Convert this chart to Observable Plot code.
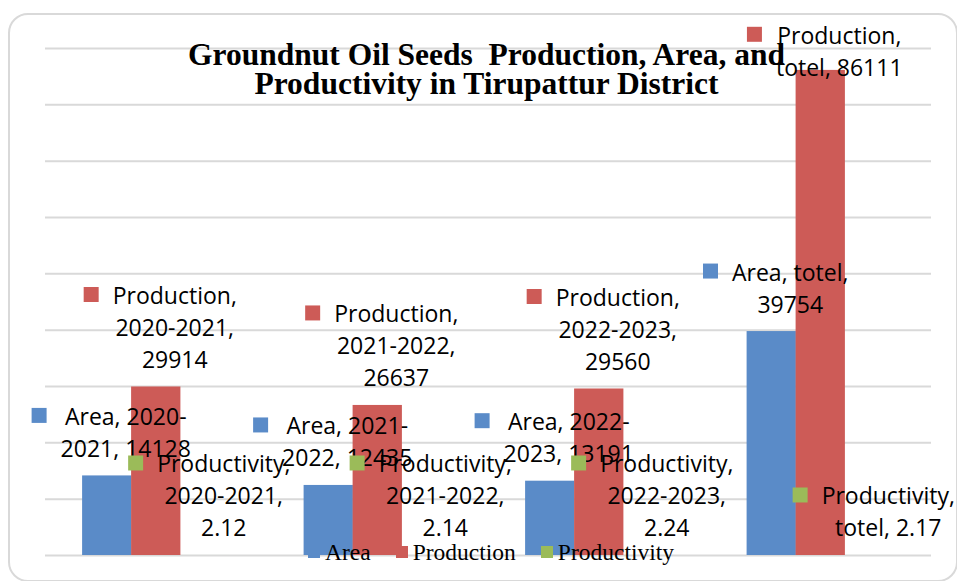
<!DOCTYPE html>
<html>
<head>
<meta charset="utf-8">
<script src="https://cdn.jsdelivr.net/npm/d3@7"></script>
<script src="https://cdn.jsdelivr.net/npm/@observablehq/plot@0.6"></script>
<style>
  html, body { margin: 0; padding: 0; background: #fff; }
  #wrap { position: relative; width: 957px; height: 581px; overflow: hidden; background: #fff; }
  #chart { position: absolute; left: 0; top: 0; }
  #frame { position: absolute; left: 8px; top: 13px; width: 946px; height: 565px;
           border: 2px solid #d9d9d9; border-radius: 20px; pointer-events: none; }
  #title { position: absolute; left: 0; top: 39.5px; width: 973px; text-align: center;
           font: bold 31.5px "Liberation Serif", "Times New Roman", serif; line-height: 29px;
           color: #000; white-space: pre; }
  #legend { position: absolute; left: 308px; top: 540px; display: flex;
            font: 23.5px "Liberation Serif", "Times New Roman", serif; line-height: 24px; color: #000; }
  #legend .item { display: flex; align-items: flex-start; margin-right: 25px; }
  #legend .key { width: 12px; height: 12px; margin-top: 6px; margin-right: 5px; }
</style>
</head>
<body>
<div id="wrap">
  <div id="chart"></div>
  <div id="title"></div>
  <div id="legend"></div>
  <div id="frame"></div>
</div>
<script>
// ---------------- data ----------------
const titleLines = ["Groundnut Oil Seeds  Production, Area, and", "Productivity in Tirupattur District"];
const categories = ["2020-2021", "2021-2022", "2022-2023", "totel"];
const series = ["Area", "Production", "Productivity"];
const areaValues = [14128, 12435, 13191, 39754];
const productionValues = [29914, 26637, 29560, 86111];
const productivityValues = [2.12, 2.14, 2.24, 2.17];
const gridTicks = [0, 10000, 20000, 30000, 40000, 50000, 60000, 70000, 80000, 90000];
const seriesColors = ["#5a8bc8", "#cd5b57", "#9bbb59"];

// ---------------- layout / style ----------------
const W = 957, H = 581;
const M = {top: 48, right: 26, bottom: 26, left: 45};
const SUB = 49;                 // width of one bar inside a category group
const LABEL_FONT = "'Open Sans'";
const LABEL_SIZE = 23;
const LINE = 32;                // label line spacing (px)
const WRAP = 148;               // label wrap width (px)
const TEXT_SHIFT = 18.5;        // label centre right of bar centre
const KEY_GAP = 14;             // gap between key square and label box
const KEY_SIDE = 15;
const FIRST_MIN = 43.3;         // labels are kept inside the chart: first baseline not above this

const valuesBySeries = [areaValues, productionValues, productivityValues];
const rows = series.flatMap((s, si) => categories.map((c, ci) => ({
  series: s, si, category: c, value: valuesBySeries[si][ci]
})));

const common = {
  width: W, height: H,
  marginTop: M.top, marginRight: M.right, marginBottom: M.bottom, marginLeft: M.left,
  x: {domain: categories, paddingInner: 0.335, paddingOuter: 0.1675, round: false, axis: null},
  y: {domain: [0, 90000], axis: null},
  style: {background: "transparent", overflow: "visible"}
};

const gridMark = Plot.ruleY(gridTicks, {stroke: "#d9d9d9", strokeWidth: 2});
const barMarks = series.map((s, si) => Plot.barY(rows.filter(r => r.si === si), {
  x: "category", y: "value", fill: seriesColors[si],
  insetLeft: si * SUB, insetRight: (2 - si) * SUB
}));

// probe render to read the y scale (to keep labels inside the chart)
const probe = Plot.plot({...common, marks: [gridMark, ...barMarks]});
const ys = probe.scale("y");
const yPix = d3.scaleLinear(ys.domain, ys.range);

// label text wrapping
const ctx = document.createElement("canvas").getContext("2d");
ctx.font = `${LABEL_SIZE}px ${LABEL_FONT}`;
const measure = t => ctx.measureText(t).width;
function wrap(text) {
  const tokens = text.split(/(?<=[ -])/);
  const lines = [];
  let line = "";
  for (const tk of tokens) {
    if (line && measure((line + tk).trimEnd()) > WRAP) { lines.push(line.trimEnd()); line = tk; }
    else line += tk;
  }
  if (line) lines.push(line.trimEnd());
  return lines;
}

const labelMarks = [];
for (const r of rows) {
  const lines = wrap(`${r.series}, ${r.category}, ${r.value}`);
  const n = lines.length;
  const maxW = d3.max(lines, measure);
  const textDx = (r.si - 1) * SUB + TEXT_SHIFT;
  const keyDx = textDx - maxW / 2 - KEY_GAP - KEY_SIDE / 2;
  const firstBase = yPix(r.value) - 19 - (n - 1) * LINE;
  const clamped = firstBase < FIRST_MIN;
  const textOpts = {
    text: d => lines.join("\n"), x: "category",
    fontFamily: LABEL_FONT, fontSize: LABEL_SIZE, fill: "#000",
    lineAnchor: "bottom", lineHeight: LINE / LABEL_SIZE, textAnchor: "middle", dx: textDx
  };
  const keyOpts = {
    x: "category", symbol: "square", r: KEY_SIDE / Math.sqrt(Math.PI),
    fill: seriesColors[r.si], stroke: null, dx: keyDx
  };
  if (clamped) {
    labelMarks.push(Plot.dot([r], {...keyOpts, frameAnchor: "top", dy: FIRST_MIN - M.top - 9.5}));
    labelMarks.push(Plot.text([r], {...textOpts, frameAnchor: "top", dy: FIRST_MIN - M.top + (n - 1) * LINE}));
  } else {
    labelMarks.push(Plot.dot([r], {...keyOpts, y: "value", dy: -19 - (n - 1) * LINE - 9.5}));
    labelMarks.push(Plot.text([r], {...textOpts, y: "value", dy: -19}));
  }
}

const chart = Plot.plot({...common, marks: [gridMark, ...barMarks, ...labelMarks]});
document.getElementById("chart").append(chart);

// title
const titleEl = document.getElementById("title");
titleLines.forEach(t => { const d = document.createElement("div"); d.textContent = t; titleEl.append(d); });

// legend
const legendEl = document.getElementById("legend");
series.forEach((s, i) => {
  const item = document.createElement("div"); item.className = "item";
  const key = document.createElement("span"); key.className = "key"; key.style.background = seriesColors[i];
  const lab = document.createElement("span"); lab.textContent = s;
  item.append(key, lab); legendEl.append(item);
});
</script>
</body>
</html>
